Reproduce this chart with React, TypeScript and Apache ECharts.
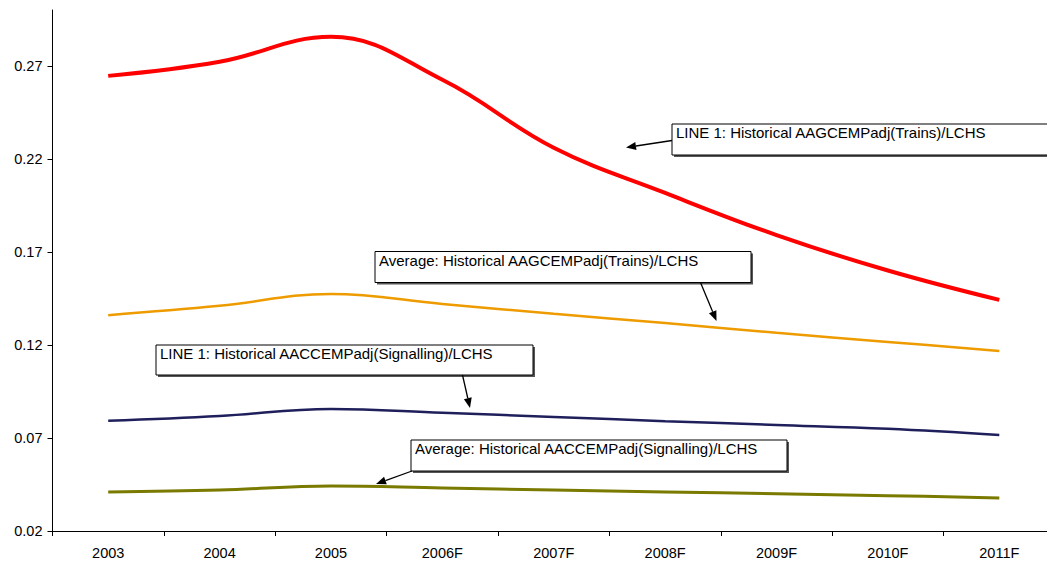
import React, { useEffect, useRef } from "react";
import * as echarts from "echarts";

const categories = ["2003", "2004", "2005", "2006F", "2007F", "2008F", "2009F", "2010F", "2011F"];
const yTicks = [0.02, 0.07, 0.12, 0.17, 0.22, 0.27];
const lineTrains = [0.2646, 0.2722, 0.2856, 0.2625, 0.226, 0.2017, 0.179, 0.160, 0.1442];
const avgTrains = [0.136, 0.141, 0.1474, 0.142, 0.1367, 0.1318, 0.1265, 0.1216, 0.1168];
const lineSignalling = [0.0792, 0.0818, 0.0856, 0.0835, 0.0813, 0.079, 0.077, 0.0749, 0.0716];
const avgSignalling = [0.041, 0.042, 0.0442, 0.0431, 0.042, 0.041, 0.040, 0.039, 0.0378];

const labels = [
  "LINE 1: Historical AAGCEMPadj(Trains)/LCHS",
  "Average: Historical AAGCEMPadj(Trains)/LCHS",
  "LINE 1: Historical AACCEMPadj(Signalling)/LCHS",
  "Average: Historical AACCEMPadj(Signalling)/LCHS",
];

const FONT = "'Liberation Sans', Arial, sans-serif";

function box(x: number, y: number, w: number, h: number, text: string) {
  return {
    type: "group",
    children: [
      { type: "rect", shape: { x: x + 2, y: y + 2, width: w, height: h }, style: { fill: "#555" } },
      { type: "rect", shape: { x, y, width: w, height: h }, style: { fill: "#fff", stroke: "#000", lineWidth: 1 } },
      {
        type: "text",
        x: x + 4,
        y: y + 1,
        style: { text, fill: "#000", font: "15px " + FONT, textVerticalAlign: "top" },
      },
    ],
  };
}

function arrow(x1: number, y1: number, x2: number, y2: number) {
  const dx = x2 - x1, dy = y2 - y1;
  const len = Math.sqrt(dx * dx + dy * dy);
  const ux = dx / len, uy = dy / len;
  const hl = 10, hw = 4;
  const bx = x2 - ux * hl, by = y2 - uy * hl;
  return {
    type: "group",
    children: [
      { type: "line", shape: { x1, y1, x2: bx, y2: by }, style: { stroke: "#000", lineWidth: 1.3 } },
      {
        type: "polygon",
        shape: { points: [[x2, y2], [bx - uy * hw, by + ux * hw], [bx + uy * hw, by - ux * hw]] },
        style: { fill: "#000" },
      },
    ],
  };
}

export default function App() {
  const ref = useRef<HTMLDivElement>(null);
  useEffect(() => {
    if (!ref.current) return;
    const chart = echarts.init(ref.current, undefined, { renderer: "svg" });
    const mkLine = (data: number[], color: string, width: number) => ({
      type: "line",
      data,
      smooth: 0.4,
      symbol: "none",
      lineStyle: { color, width },
    });
    chart.setOption({
      animation: false,
      backgroundColor: "#fff",
      grid: { left: 52.5, right: -8, top: 10, bottom: 32, containLabel: false, outerBoundsMode: "none" },
      xAxis: {
        type: "category",
        data: categories,
        boundaryGap: true,
        axisLine: { lineStyle: { color: "#000", width: 1 } },
        axisTick: { show: true, length: 5, lineStyle: { color: "#000" } },
        axisLabel: { color: "#000", fontSize: 14.5, margin: 14, fontFamily: FONT },
        splitLine: { show: false },
      },
      yAxis: {
        type: "value",
        min: 0.02,
        max: 0.3,
        axisLine: { show: true, lineStyle: { color: "#000", width: 1 } },
        axisTick: { show: true, length: 5, lineStyle: { color: "#000" }, customValues: yTicks },
        axisLabel: {
          color: "#000",
          fontSize: 14.5,
          margin: 10,
          fontFamily: FONT,
          customValues: yTicks,
          formatter: (v: number) => v.toFixed(2),
        },
        splitLine: { show: false },
      },
      series: [
        mkLine(lineTrains, "#FF0000", 4),
        mkLine(avgTrains, "#EE9B00", 2.5),
        mkLine(lineSignalling, "#1F1F5C", 2.5),
        mkLine(avgSignalling, "#7A7A00", 3),
      ],
      graphic: [
        box(672, 124, 390, 31, labels[0]),
        arrow(672, 140.5, 626, 147.5),
        box(375, 251.5, 376, 31, labels[1]),
        arrow(700.5, 282.5, 716.5, 321),
        box(156, 345, 377, 30, labels[2]),
        arrow(462.5, 375, 470, 408),
        box(411, 440, 376, 31, labels[3]),
        arrow(412, 471, 376, 484),
      ],
    });
    return () => chart.dispose();
  }, []);
  return <div ref={ref} style={{ width: 1047, height: 563, position: "absolute", left: 0, top: 0 }} />;
}
